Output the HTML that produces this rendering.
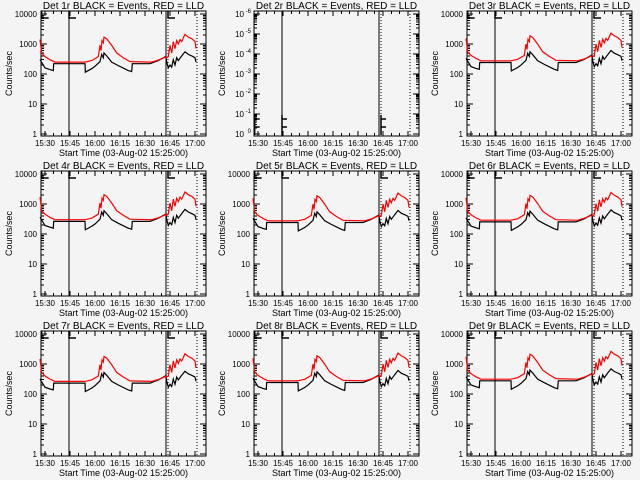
<!DOCTYPE html>
<html><head><meta charset="utf-8">
<style>
html,body{margin:0;padding:0;background:#f4f4f4;}
svg{display:block;}
text{font-family:"Liberation Sans",sans-serif;fill:#000;}
line,rect{shape-rendering:crispEdges;}
</style></head>
<body>
<svg id="chart" width="640" height="480" viewBox="0 0 640 480" xmlns="http://www.w3.org/2000/svg">
<rect x="0" y="0" width="640" height="480" fill="#f4f4f4"/>
</svg>
<script>
// Shared data (minutes after 15:00, counts/sec)
const detectors = ["1r","2r","3r","4r","5r","6r","7r","8r","9r"];
const xTickLabels = ["15:30","15:45","16:00","16:15","16:30","16:45","17:00"];
const xTickMinutes = [30,45,60,75,90,105,120];
const solidLines = [44.4,102.6];
const dottedLines = [103.8,121.2];
const redTimes = [27,28,30,33,36,54,58,62,63,63.6,64.2,65,65.4,67,70,73,77,81,94,98,102.6,103,104,105,106,107,108,109,110,111,112,114,116,118,120,120.6];
const redValues = [1400,500,380,300,250,250,280,380,900,600,1300,1100,1700,1500,900,500,350,260,250,290,370,350,380,900,500,1200,700,1300,1000,1400,1200,2100,1700,1500,1200,700];
const blackTimes = [27,30,33,35,35.2,54,54.2,58,60,63,64,65,65.4,67,70,74,80,82,82.4,93,98,102.6,103,104,105,106,107,108,109,110,112,114,116,118,120,120.6];
const blackValues = [300,160,140,130,220,220,115,150,180,260,450,350,500,400,250,190,130,120,220,220,280,390,250,160,200,170,300,200,350,280,400,550,450,400,350,250];
const panelScale = [1,0,1.1,1.2,1.1,1.15,1.05,1.1,1.25];
const yTickLabels = ["1","10","100","1000","10000"];
const yTickValues = [1,10,100,1000,10000];

const NS="http://www.w3.org/2000/svg";
const svg=document.getElementById('chart');
function mk(tag,attrs,parent){const e=document.createElementNS(NS,tag);for(const k in attrs)e.setAttribute(k,attrs[k]);(parent||svg).appendChild(e);return e;}

const L=41,R=206,T=11,B=136;
function xs(t){return 45+(t-30)*25/15;}
function ys(v){return 134-30*Math.log10(v);}

detectors.forEach((det,i)=>{
  const ox=(i%3)*213, oy=Math.floor(i/3)*160;
  const g=mk('g',{transform:`translate(${ox},${oy})`});
  
  
  const empty = panelScale[i]===0;
  const ti=mk('text',{x:(L+R)/2,y:9,'font-size':10,'text-anchor':'middle'},g);
  ti.textContent=`Det ${det} BLACK = Events, RED = LLD`;
  
  
  const yl=mk('text',{x:0,y:0,'font-size':9,'text-anchor':'middle',transform:`translate(12,${(T+B)/2}) rotate(-90)`},g);
  yl.textContent='Counts/sec';
  
  
  const xl=mk('text',{x:(L+R)/2,y:156,'font-size':9,'text-anchor':'middle'},g);
  xl.textContent='Start Time (03-Aug-02 15:25:00)';
  
  
  const fr=mk('rect',{x:L,y:T,width:R-L,height:B-T,fill:'none',stroke:'#000','stroke-width':1},g);
  
  
  for(let t=30;t<=120;t+=5){
    const x=xs(t); const len=(t%15===0)?5:3;
    mk('line',{x1:x,y1:B,x2:x,y2:B-len,stroke:'#000'},g);
    mk('line',{x1:x,y1:T,x2:x,y2:T+len,stroke:'#000'},g);
  }
  xTickMinutes.forEach((t,k)=>{
    const tx=mk('text',{x:xs(t),y:146,'font-size':8,'text-anchor':'middle'},g);
    tx.textContent=xTickLabels[k];
    
    
  });
  if(!empty){
    for(let d=0;d<=4;d++){
      for(let m=1;m<=9;m++){
        const v=Math.pow(10,d)*m; if(v>12000) continue;
        const y=ys(v); const len=m===1?6:3;
        mk('line',{x1:L,y1:y,x2:L+len,y2:y,stroke:'#000'},g);
        mk('line',{x1:R,y1:y,x2:R-len,y2:y,stroke:'#000'},g);
      }
    }
    yTickValues.forEach((v,k)=>{
      const tx=mk('text',{x:L-4,y:ys(v)+3,'font-size':8,'text-anchor':'end'},g);
      tx.textContent=yTickLabels[k];
      
      
    });
  } else {
    const exps=[0,-1,-2,-3,-4,-5,-6];
    exps.forEach((e,k)=>{
      const y=134-k*20;
      for(let m=1;m<=9;m++){
        const yy=y-20*Math.log10(m); if(yy<T) continue;
        const len=m===1?6:3;
        mk('line',{x1:L,y1:yy,x2:L+len,y2:yy,stroke:'#000'},g);
        mk('line',{x1:R,y1:yy,x2:R-len,y2:yy,stroke:'#000'},g);
      }
      const tx=mk('text',{x:L-10,y:y+3,'font-size':8,'text-anchor':'end'},g);
      tx.textContent='10';
      const sup=mk('text',{x:L-3,y:y-1,'font-size':6,'text-anchor':'end'},g);
      sup.textContent=String(e);
      
      
    });
  }
  solidLines.forEach(t=>{const l=mk('line',{x1:xs(t),y1:T,x2:xs(t),y2:B,stroke:'#000','stroke-width':1},g);
    });
  dottedLines.forEach(t=>{const l=mk('line',{x1:xs(t),y1:T,x2:xs(t),y2:B,stroke:'#000','stroke-width':1,'stroke-dasharray':'1,2'},g);
    });
  const my = empty ? 115 : 11;
  const mh = empty ? 10 : 7;
  [[xs(28),'E'],[xs(44.4),'F'],[xs(102.6)+2,'E']].forEach(([x,c])=>{
    const p=mk('path',{d: empty?`M${x} ${my} v${mh+10} M${x} ${my+4} h5 M${x} ${my+mh+2} h5` : `M${x} ${my} v${mh} h7`,fill:'none',stroke:'#000','stroke-width':1.5},g);
    
  });
  if(!empty){
    const s=panelScale[i];
    const bp=blackTimes.map((t,k)=>`${xs(t).toFixed(1)},${ys(blackValues[k]*s).toFixed(1)}`).join(' ');
    const rp=redTimes.map((t,k)=>`${xs(t).toFixed(1)},${ys(redValues[k]*s).toFixed(1)}`).join(' ');
    const bl=mk('polyline',{points:bp,fill:'none',stroke:'#000','stroke-width':1.2},g);
    
    const rl=mk('polyline',{points:rp,fill:'none',stroke:'#ff0000','stroke-width':1.2},g);
    
  }
});
</script>
</body></html>
